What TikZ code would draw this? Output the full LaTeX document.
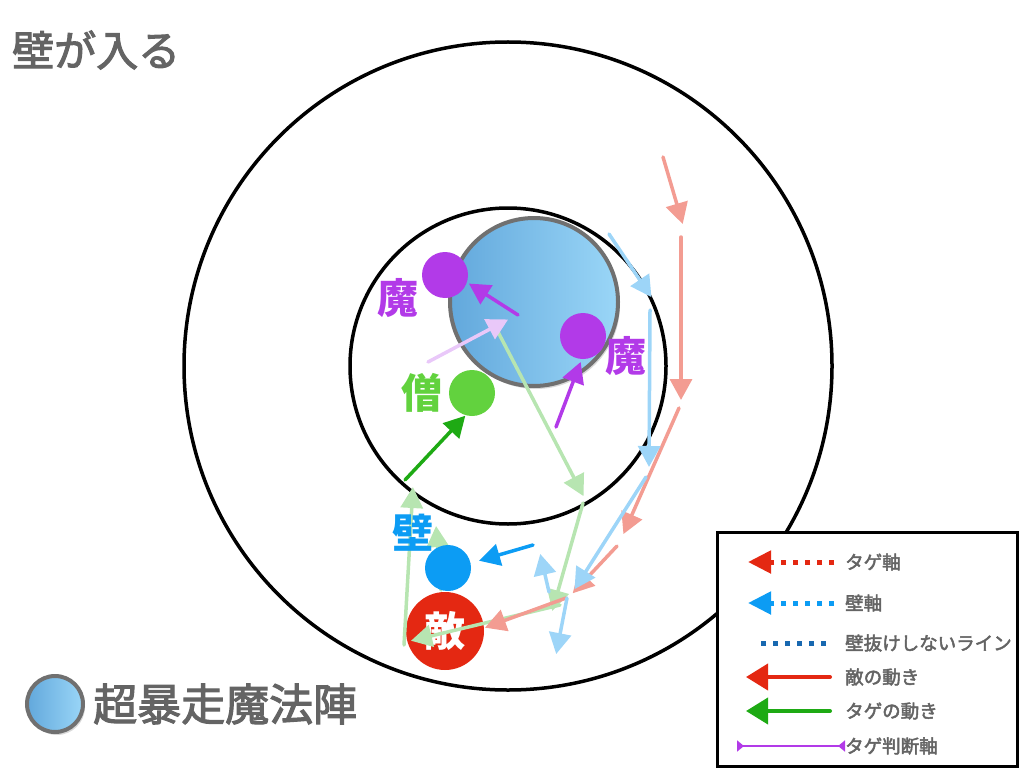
\documentclass[tikz,border=0pt]{standalone}
\usepackage{fontspec}
\setmainfont{Noto Sans CJK JP}
\newfontfamily\midfont{Noto Sans CJK JP}[FakeBold=2.5]
\usetikzlibrary{arrows.meta,positioning,shadows}

\definecolor{textgray}{RGB}{100,100,100}
\definecolor{rimgray}{RGB}{112,112,112}
\definecolor{magicdark}{RGB}{98,168,220}
\definecolor{magiclight}{RGB}{154,214,247}
\definecolor{enemyred}{RGB}{228,40,18}
\definecolor{wallblue}{RGB}{12,156,244}
\definecolor{monkgreen}{RGB}{98,210,62}
\definecolor{tagegreen}{RGB}{30,170,20}
\definecolor{magepurple}{RGB}{178,58,232}
\definecolor{skyblue}{RGB}{60,172,240}
\definecolor{lineblue}{RGB}{24,104,176}

\begin{document}
\begin{tikzpicture}[x=1pt,y=-1pt,shorten >=1pt,line cap=round,
                ring/.style={draw=black,line width=3.5pt},
                char node/.style={circle,inner sep=0pt,minimum size=46pt},
                char label/.style={inner sep=0pt,font=\fontsize{41}{41}\selectfont\bfseries},
                big text/.style={inner sep=0pt,text=textgray,font=\midfont\fontsize{42}{42}\selectfont},
                key text/.style={inner sep=0pt,anchor=west,text=textgray,font=\midfont\fontsize{18.5}{18.5}\selectfont},
                magic node/.style={circle,inner sep=0pt,draw=rimgray,line width=4pt,
                    left color=magicdark,right color=magiclight,
                    drop shadow={opacity=0.3,shadow xshift=2pt,shadow yshift=-3pt}},
                move/.style={line width=3.5pt,-{Triangle[length=21pt,width=22pt]}},
                faint red/.style={move,color=enemyred!46},
                faint blue/.style={move,color=skyblue!50},
                faint green/.style={move,color=tagegreen!70!monkgreen!35},
                faint purple/.style={move,color=magepurple!28},
                key dots/.style={line width=5pt,line cap=butt,dash pattern=on 5pt off 7pt}]

	\useasboundingbox (0,0) rectangle (1024,778);

	% rings
	\coordinate (ctr) at (508,366);
	\draw[ring] (ctr) circle[radius=324pt];
	\draw[ring] (ctr) circle[radius=158pt];

	\node[magic node,minimum size=168pt] (0) at (534,302) {};
	\node[char node,fill=enemyred,minimum size=78pt,text=white,
	      font=\fontsize{41}{41}\selectfont\bfseries] (5) at (445,631) {敵};

	% faint moves
	\coordinate (ra) at (663,157);
	\coordinate (rb) at (683,225);
	\coordinate (rc) at (681,237);
	\coordinate (rd) at (681,401);
	\coordinate (re) at (679,408);
	\coordinate (rf) at (623,535);
	\coordinate (rg) at (617,546);
	\coordinate (rh) at (572,594);
	\coordinate (ri) at (566,598);
	\coordinate (rj) at (484,628);

	\coordinate (ba) at (609,234);
	\coordinate (bb) at (652,298);
	\coordinate (bc) at (650,310);
	\coordinate (bd) at (649,468);
	\coordinate (be) at (646,477);
	\coordinate (bf) at (574,590);
	\coordinate (bg) at (549,592);
	\coordinate (bh) at (540,553);
	\coordinate (bi) at (567,598);
	\coordinate (bj) at (556,655);

	\coordinate (ga) at (497,330);
	\coordinate (gb) at (584,497);
	\coordinate (gc) at (583,503);
	\coordinate (gd) at (552,612);
	\coordinate (ge) at (560,605);
	\coordinate (gf) at (410,641);
	\coordinate (gg) at (404,645);
	\coordinate (gh) at (413,486);
	\coordinate (gi) at (441,590);
	\coordinate (gj) at (436,525);

	\coordinate (pa) at (428,362);
	\coordinate (pb) at (509,319);

	\path[faint green]
	(ga) edge (gb)
	(gc) edge (gd)
	(ge) edge (gf)
	(gg) edge (gh)
	(gi) edge (gj)
	;
	\path[faint red]
	(ra) edge (rb)
	(rc) edge (rd)
	(re) edge (rf)
	(rg) edge (rh)
	(ri) edge (rj)
	;
	\path[faint blue]
	(ba) edge (bb)
	(bc) edge (bd)
	(be) edge (bf)
	(bg) edge (bh)
	(bi) edge (bj)
	;
	\path[faint purple] (pa) edge (pb);

	% characters
	\node[char node,fill=magepurple] (1) at (445,275) {};
	\node[char node,fill=magepurple] (2) at (583,336) {};
	\node[char node,fill=monkgreen] (3) at (472,393) {};
	\node[char node,fill=wallblue] (4) at (448,568) {};

	\node[char label,magepurple] (1l) [left=3pt of 1,yshift=-23pt] {魔};
	\node[char label,magepurple] (2l) [right=-1pt of 2,yshift=-20pt] {魔};
	\node[char label,monkgreen] (3l) [left=6pt of 3] {僧};
	\node[char label,wallblue] (4l) [above left=0pt and -2pt of 4] {壁};

	% strong moves
	\coordinate (pc) at (518,315);
	\coordinate (pd) at (468,283);
	\coordinate (pe) at (556,427);
	\coordinate (pf) at (581,361);
	\coordinate (ta) at (405,480);
	\coordinate (tb) at (466,415);
	\coordinate (wa) at (533,545);
	\coordinate (wb) at (478,561);

	\path[move,magepurple]
	(pc) edge (pd)
	(pe) edge (pf)
	;
	\path[move,tagegreen] (ta) edge (tb);
	\path[move,wallblue] (wa) edge (wb);

	% legend
	\node[draw=black,line width=3pt,fill=white,minimum width=300pt,minimum height=234pt] (key) at (867.5,649.5) {};

	\node[key text] (k1) at (845,562) {タゲ軸};
	\node[key text] (k2) at (845,603) {壁軸};
	\node[key text] (k3) at (845,643) {壁抜けしないライン};
	\node[key text] (k4) at (845,677) {敵の動き};
	\node[key text] (k5) at (845,711) {タゲの動き};
	\node[key text] (k6) at (845,746) {タゲ判断軸};

	\coordinate[left=11pt of k1] (k1a);
	\coordinate[left=98pt of k1] (k1b);
	\coordinate[left=11pt of k2] (k2a);
	\coordinate[left=98pt of k2] (k2b);
	\coordinate[left=19pt of k3] (k3a);
	\coordinate[left=86pt of k3] (k3b);
	\coordinate[left=15pt of k4] (k4a);
	\coordinate[left=100pt of k4] (k4b);
	\coordinate[left=15pt of k5] (k5a);
	\coordinate[left=100pt of k5] (k5b);
	\coordinate[left=0pt of k6] (k6a);
	\coordinate[left=108pt of k6] (k6b);

	\draw[key dots,enemyred,-{Triangle[length=23pt,width=22pt]}] (k1a) -- (k1b);
	\draw[key dots,wallblue,-{Triangle[length=23pt,width=22pt]}] (k2a) -- (k2b);
	\draw[key dots,lineblue,shorten >=0pt] (k3a) -- (k3b);
	\draw[move,line width=4pt,enemyred,-{Triangle[length=22pt,width=26pt]}] (k4a) -- (k4b);
	\draw[move,line width=4pt,tagegreen,-{Triangle[length=22pt,width=26pt]}] (k5a) -- (k5b);
	\draw[line width=2.5pt,magepurple,shorten >=0pt,
	      {Triangle[reversed,length=7pt,width=11pt]}-{Triangle[reversed,length=7pt,width=11pt]}] (k6a) -- (k6b);

	% titles
	\node[big text,anchor=west] (title) at (12,50) {壁が入る};
	\node[magic node,minimum size=56pt] (mini) at (55,704) {};
	\node[big text,font=\midfont\fontsize{44}{44}\selectfont,right=8pt of mini] (cap) {超暴走魔法陣};
\end{tikzpicture}
\end{document}
